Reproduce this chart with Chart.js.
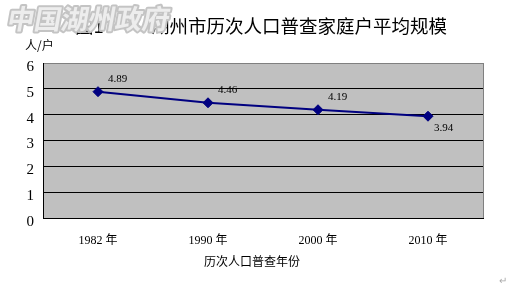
<!DOCTYPE html>
<html>
<head>
<meta charset="utf-8">
<script src="https://cdn.jsdelivr.net/npm/chart.js@4/dist/chart.umd.min.js"></script>
<style>
  html, body { margin: 0; padding: 0; background: #fff; }
  #wrap { width: 522px; height: 295px; position: relative; }
</style>
</head>
<body>
<div id="wrap"><canvas id="canvas" width="522" height="295"></canvas></div>
<script>
// census years and average household size
var years = ["1982 年", "1990 年", "2000 年", "2010 年"];
var avgSize = [4.89, 4.46, 4.19, 3.94];
var yTicks = [0, 1, 2, 3, 4, 5, 6];

var cjk = '"Noto Sans CJK SC", "Noto Sans", sans-serif';
var serif = '"Liberation Serif", "DejaVu Serif", "Noto Sans CJK SC", serif';

var decor = {
    id: "decor",
    beforeDraw: function (chart) {
        var c = chart.ctx, a = chart.chartArea;
        c.save();
        c.fillStyle = "#fff";
        c.fillRect(0, 0, chart.width, chart.height);
        c.fillStyle = "#c0c0c0";
        c.fillRect(a.left, a.top, a.right - a.left, a.bottom - a.top);
        c.restore();
    },
    afterDatasetsDraw: function (chart) {
        var c = chart.ctx, a = chart.chartArea;
        var meta = chart.getDatasetMeta(0);
        c.save();
        // right border
        c.strokeStyle = "#808080";
        c.lineWidth = 1;
        c.beginPath();
        c.moveTo(a.right + 0.5, a.top);
        c.lineTo(a.right + 0.5, a.bottom);
        c.stroke();
        // value labels
        c.fillStyle = "#000";
        c.font = "11px " + serif;
        c.textBaseline = "middle";
        c.textAlign = "left";
        meta.data.forEach(function (pt, i) {
            var last = i === meta.data.length - 1;
            c.fillText(avgSize[i].toFixed(2), pt.x + (last ? 6 : 10), pt.y + (last ? 12 : -13));
        });
        // titles
        c.font = "18.5px " + cjk;
        c.textBaseline = "alphabetic";
        c.fillText("图1", 75, 33);
        c.fillText("湖州市历次人口普查家庭户平均规模", 151, 33);
        c.font = "12px " + cjk;
        c.fillText("人/户", 25, 50);
        c.textAlign = "center";
        c.fillText("历次人口普查年份", 252, 266);
        c.fillStyle = "#aaa";
        c.font = "10px " + cjk;
        c.fillText("↵", 503, 284);
        // site watermark
        c.translate(0, 29);
        c.transform(1, 0, -0.18, 1, 0, 0);
        c.font = "bold 27px " + cjk;
        c.textAlign = "left";
        c.lineJoin = "round";
        c.lineWidth = 4;
        c.strokeStyle = "#c4c4c4";
        c.strokeText("中国湖州政府", 6, 0);
        c.fillStyle = "#ededed";
        c.fillText("中国湖州政府", 6, 0);
        c.restore();
    }
};

new Chart("canvas", {
    type: "line",
    data: {
        labels: years,
        datasets: [{
            data: avgSize,
            borderColor: "#000080",
            backgroundColor: "#000080",
            borderWidth: 2,
            pointStyle: "rectRot",
            pointRadius: 5,
            pointBorderWidth: 1,
            tension: 0
        }]
    },
    options: {
        responsive: false,
        animation: false,
        devicePixelRatio: 1,
        layout: { padding: { top: 63, right: 39, left: 0, bottom: 0 } },
        plugins: { legend: { display: false }, tooltip: { enabled: false } },
        scales: {
            x: {
                offset: true,
                grid: { display: false, drawTicks: false },
                border: { color: "#000", width: 1 },
                ticks: { color: "#000", font: { family: serif, size: 12 }, padding: 16, maxRotation: 0 },
                afterFit: function (s) { s.height = 77; }
            },
            y: {
                min: 0,
                max: 6,
                afterBuildTicks: function (s) { s.ticks = yTicks.map(function (v) { return { value: v }; }); },
                grid: {
                    drawTicks: false,
                    color: function (ctx) { return ctx.tick && ctx.tick.value === 6 ? "#808080" : "#000"; }
                },
                border: { color: "#000", width: 1 },
                ticks: { color: "#000", font: { family: serif, size: 15 }, padding: 9, labelOffset: 4 },
                afterFit: function (s) { s.width = 43; }
            }
        }
    },
    plugins: [decor]
});
</script>
</body>
</html>
